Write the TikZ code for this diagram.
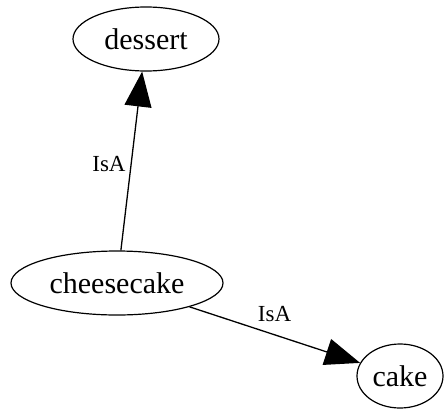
\documentclass[tikz,border=0pt]{standalone}
\usepackage{fontspec}
\setmainfont{Liberation Serif}
\usetikzlibrary{shapes.geometric,arrows.meta}
\begin{document}
\begin{tikzpicture}[x=1pt,y=-1pt,
  concept/.style={draw,ellipse,line width=1.2pt,inner sep=0pt,minimum height=64pt,font=\fontsize{30}{35}\selectfont},
  rel/.style={line width=1.3pt,-{Triangle[length=35pt,width=27pt]}},
  rellabel/.style={inner sep=0pt,font=\fontsize{23}{27}\selectfont}]
\useasboundingbox (0,0) rectangle (446,412);
\node[concept,minimum width=146pt] (dessert) at (146,39) {dessert};
\node[concept,minimum width=212pt] (cheesecake) at (117,283) {cheesecake};
\node[concept,minimum width=86pt] (cake) at (400,376) {cake};
\draw[rel] (cheesecake) -- (dessert);
\draw[rel] (cheesecake) -- (cake);
\node[rellabel] (l1) at (109,164) {IsA};
\node[rellabel] (l2) at (274.5,314.5) {IsA};
\end{tikzpicture}
\end{document}
